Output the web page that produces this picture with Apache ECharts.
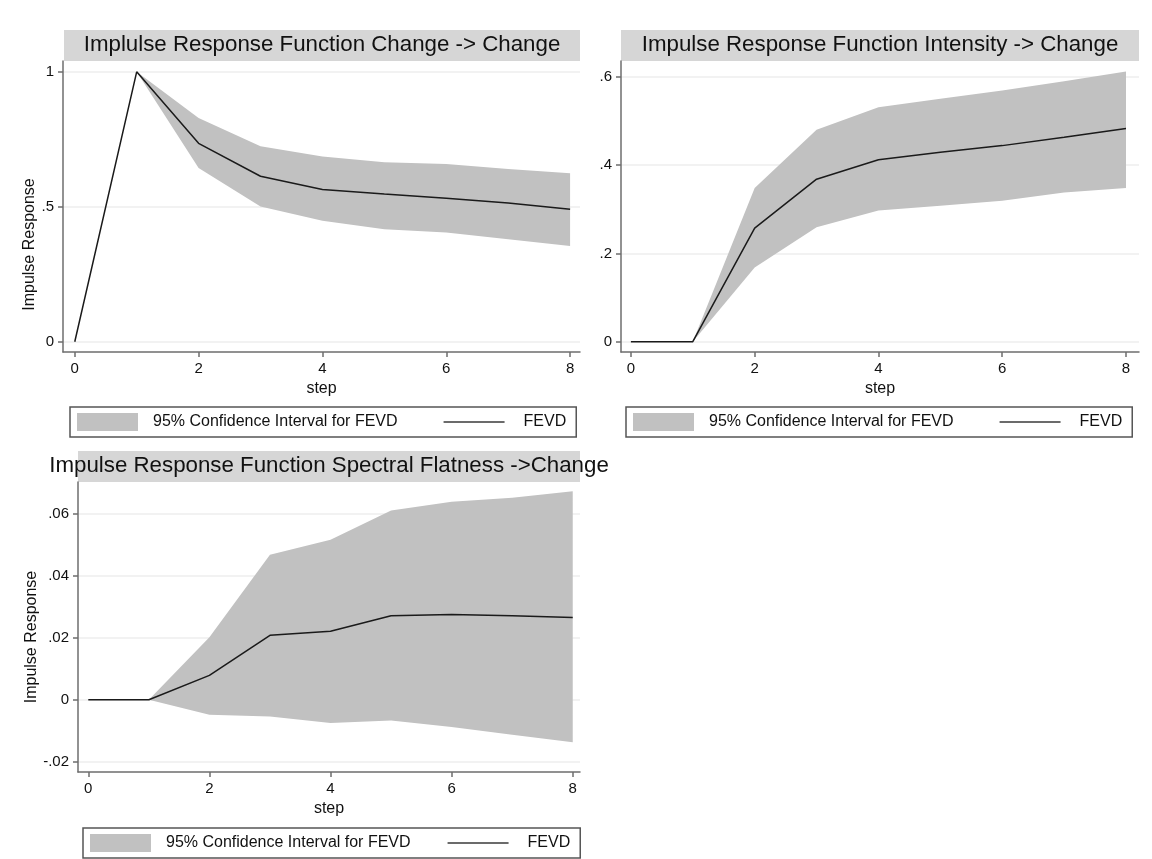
<!DOCTYPE html>
<html>
<head>
<meta charset="utf-8">
<title>Impulse Response Functions</title>
<script src="https://cdn.jsdelivr.net/npm/echarts@6/dist/echarts.min.js"></script>
<style>
  html, body { margin: 0; padding: 0; background: #fff; }
  #chart { width: 1152px; height: 859px; }
</style>
</head>
<body>
<div id="chart"></div>
<script>
const steps = [0, 1, 2, 3, 4, 5, 6, 7, 8];
const xTicks = [0, 2, 4, 6, 8];

// Change -> Change
const changeIrf = [0, 1, 0.735, 0.613, 0.564, 0.547, 0.532, 0.514, 0.491];
const changeLower = [0, 1, 0.644, 0.501, 0.448, 0.417, 0.405, 0.380, 0.355];
const changeUpper = [0, 1, 0.829, 0.724, 0.686, 0.665, 0.658, 0.640, 0.624];
const changeTicks = [0, 0.5, 1];

// Intensity -> Change
const intensityIrf = [0, 0, 0.257, 0.368, 0.412, 0.429, 0.444, 0.463, 0.483];
const intensityLower = [0, 0, 0.168, 0.259, 0.297, 0.308, 0.319, 0.338, 0.348];
const intensityUpper = [0, 0, 0.348, 0.480, 0.531, 0.550, 0.569, 0.590, 0.612];
const intensityTicks = [0, 0.2, 0.4, 0.6];

// Spectral Flatness -> Change
const flatnessIrf = [0, 0, 0.0079, 0.0208, 0.0221, 0.0271, 0.0275, 0.0271, 0.0266];
const flatnessLower = [0, 0, -0.0048, -0.0054, -0.0075, -0.0067, -0.0088, -0.0113, -0.0137];
const flatnessUpper = [0, 0, 0.0202, 0.0468, 0.0517, 0.0611, 0.0639, 0.0652, 0.0673];
const flatnessTicks = [-0.02, 0, 0.02, 0.04, 0.06];

const CI_NAME = "95% Confidence Interval for FEVD";
const LINE_NAME = "FEVD";
const FONT = "'Liberation Sans', Arial, Helvetica, sans-serif";
const AXIS_COLOR = "#6e6e6e";
const BAND_COLOR = "#c1c1c1";
const TITLE_BG = "#d6d6d6";

const panels = [
  {
    title: "Implulse Response Function Change -> Change",
    grid: { left: 63, right: 572, top: 61, bottom: 507 },
    xRange: [-0.19, 8.16],
    yRange: [-0.038, 1.04],
    yTicks: changeTicks,
    yName: "Impulse Response", yNameGap: 23, yNameShift: 76,
    irf: changeIrf, lower: changeLower, upper: changeUpper,
    band: [64, 30, 516, 31], titleY: 45,
    legendPos: [70, 407], legendGap: 46
  },
  {
    title: "Impulse Response Function Intensity -> Change",
    grid: { left: 621, right: 13, top: 61, bottom: 507 },
    xRange: [-0.16, 8.21],
    yRange: [-0.0233, 0.6356],
    yTicks: intensityTicks,
    yName: "", yNameGap: 0, yNameShift: 0,
    irf: intensityIrf, lower: intensityLower, upper: intensityUpper,
    band: [621, 30, 518, 31], titleY: 45,
    legendPos: [626, 407], legendGap: 46
  },
  {
    title: "Impulse Response Function Spectral Flatness ->Change",
    grid: { left: 78, right: 572, top: 482, bottom: 87 },
    xRange: [-0.17, 8.12],
    yRange: [-0.0233, 0.0703],
    yTicks: flatnessTicks,
    yName: "Impulse Response", yNameGap: 35, yNameShift: 20,
    irf: flatnessIrf, lower: flatnessLower, upper: flatnessUpper,
    band: [78, 451, 502, 31], titleY: 466,
    legendPos: [83, 828], legendGap: 37
  }
];

function tickLabel(value) {
  const v = +value.toFixed(4);
  return String(v).replace(/^(-?)0\./, "$1.");
}

const option = {
  backgroundColor: "#ffffff",
  animation: false,
  textStyle: { fontFamily: FONT },
  title: [],
  grid: [],
  xAxis: [],
  yAxis: [],
  legend: [],
  series: [],
  graphic: []
};

panels.forEach((p, i) => {
  option.graphic.push({
    type: "rect",
    silent: true,
    z: -1,
    shape: { x: p.band[0], y: p.band[1], width: p.band[2], height: p.band[3] },
    style: { fill: TITLE_BG }
  });

  option.title.push({
    text: p.title,
    left: p.band[0] + p.band[2] / 2,
    top: p.titleY,
    textAlign: "center",
    textVerticalAlign: "middle",
    padding: 0,
    textStyle: { fontFamily: FONT, fontSize: 22.3, fontWeight: "normal", color: "#111" }
  });

  option.grid.push(Object.assign({ containLabel: false }, p.grid));

  option.xAxis.push({
    type: "value",
    gridIndex: i,
    min: p.xRange[0],
    max: p.xRange[1],
    name: "step",
    nameLocation: "middle",
    nameGap: 29,
    nameTextStyle: { fontFamily: FONT, fontSize: 16, color: "#111" },
    axisLine: { onZero: false, lineStyle: { color: AXIS_COLOR, width: 1.5 } },
    axisTick: { length: 5, lineStyle: { color: AXIS_COLOR, width: 1.5 }, customValues: xTicks },
    axisLabel: { customValues: xTicks, margin: 9, fontSize: 15, color: "#111", fontFamily: FONT },
    splitLine: { show: false }
  });

  option.yAxis.push({
    type: "value",
    gridIndex: i,
    min: p.yRange[0],
    max: p.yRange[1],
    name: p.yName,
    nameLocation: "middle",
    nameGap: p.yNameGap,
    nameTextStyle: { fontFamily: FONT, fontSize: 16, color: "#111", padding: [0, p.yNameShift, 0, 0] },
    axisLine: { onZero: false, lineStyle: { color: AXIS_COLOR, width: 1.5 } },
    axisTick: { length: 5, lineStyle: { color: AXIS_COLOR, width: 1.5 }, customValues: p.yTicks },
    axisLabel: { customValues: p.yTicks, margin: 9, fontSize: 15, color: "#111", fontFamily: FONT, formatter: tickLabel },
    splitLine: { show: true, lineStyle: { color: "#eeeeee", width: 1.5 } }
  });

  // band rows are [value, step] so the stack runs on the y values
  const stack = "ci" + i;
  option.series.push({
    name: "lower" + i,
    type: "line",
    xAxisIndex: i,
    yAxisIndex: i,
    stack,
    stackStrategy: "all",
    encode: { x: 1, y: 0 },
    symbol: "none",
    silent: true,
    lineStyle: { width: 0, opacity: 0 },
    data: steps.map((s, k) => [p.lower[k], s])
  });
  option.series.push({
    name: CI_NAME,
    type: "line",
    xAxisIndex: i,
    yAxisIndex: i,
    stack,
    stackStrategy: "all",
    encode: { x: 1, y: 0 },
    symbol: "none",
    silent: true,
    itemStyle: { color: BAND_COLOR },
    lineStyle: { width: 0, opacity: 0 },
    areaStyle: { color: BAND_COLOR, opacity: 1 },
    data: steps.map((s, k) => [p.upper[k] - p.lower[k], s])
  });
  option.series.push({
    name: LINE_NAME,
    type: "line",
    xAxisIndex: i,
    yAxisIndex: i,
    symbol: "none",
    silent: true,
    z: 5,
    itemStyle: { color: "#1a1a1a" },
    lineStyle: { color: "#1a1a1a", width: 1.5 },
    data: steps.map((s, k) => [s, p.irf[k]])
  });

  option.legend.push({
    left: p.legendPos[0],
    top: p.legendPos[1],
    orient: "horizontal",
    padding: [6, 10, 6, 7],
    itemGap: p.legendGap,
    itemWidth: 61,
    itemHeight: 18,
    borderColor: "#555555",
    borderWidth: 1.5,
    borderRadius: 0,
    backgroundColor: "#ffffff",
    selectedMode: false,
    textStyle: { fontFamily: FONT, fontSize: 16, color: "#111" },
    data: [
      { name: CI_NAME, icon: "rect", itemStyle: { color: BAND_COLOR }, textStyle: { padding: [0, 0, 0, 10] } },
      { name: LINE_NAME, icon: "path://M0,0H60V1.6H0Z", itemStyle: { color: "#3a3a3a" }, textStyle: { padding: [0, 0, 0, 14] } }
    ]
  });
});

const chart = echarts.init(document.getElementById("chart"), null, { renderer: "canvas" });
chart.setOption(option);
</script>
</body>
</html>
